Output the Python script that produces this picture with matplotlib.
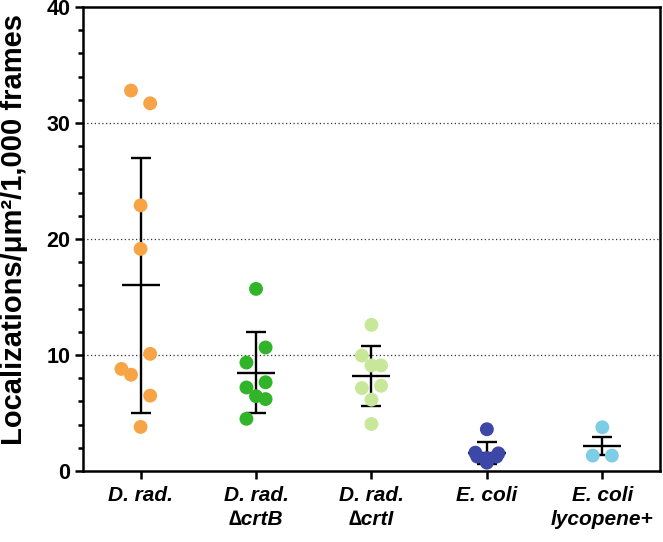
import numpy as np
import matplotlib.pyplot as plt

plt.rcParams['font.family'] = ['Liberation Sans', 'DejaVu Sans']

# groups
labels = ['D. rad.', 'D. rad.\n\u2206crtB', 'D. rad.\n\u2206crtI', 'E. coli', 'E. coli\nlycopene+']
colors = ['#F7A446', '#31B42A', '#C8E899', '#3D47A8', '#7ECDE6']

# values (localizations / um^2 / 1000 frames)
drad = [32.8, 31.7, 22.9, 19.15, 10.1, 8.8, 8.3, 6.5, 3.8]
drad_crtB = [15.7, 10.65, 9.35, 7.65, 7.2, 6.45, 6.2, 4.5]
drad_crtI = [12.6, 9.95, 9.1, 9.1, 7.15, 7.35, 6.15, 4.05]
ecoli = [3.6, 1.58, 1.52, 1.1, 1.24, 1.24, 0.72]
ecoli_lyc = [3.77, 1.33, 1.33]

# horizontal scatter slots of the points
drad_off = [-1, 1, 0, 0, 1, -2, -1, 1, 0]
crtB_off = [0, 1, -1, 1, -1, 0, 1, -1]
crtI_off = [0, -1, 0, 1, -1, 1, 0, 0]
ecoli_off = [0, -1.2, 1.2, 0, -1, 1, 0]
lyc_off = [0, -1, 1]

# error bar half-lengths
err = [11.0, 3.5, 2.6, 0.95, 0.8]

groups = [drad, drad_crtB, drad_crtI, ecoli, ecoli_lyc]
offsets = [drad_off, crtB_off, crtI_off, ecoli_off, lyc_off]

fig = plt.figure(figsize=(6.63, 5.42), dpi=100)
ax = fig.add_axes([0.125, 0.131, 0.8705, 0.856])

step = 0.083
for i, (vals, offs) in enumerate(zip(groups, offsets)):
    x = i + step * np.array(offs)
    ax.scatter(x, vals, s=100, color=colors[i], edgecolors='none', zorder=3)
    m = np.mean(vals)
    ax.errorbar(i, m, yerr=err[i], fmt='none', ecolor='black', elinewidth=1.7,
                capsize=7, capthick=1.7, zorder=2)
    ax.hlines(m, i - 0.165, i + 0.165, color='black', lw=1.7, zorder=2)

ax.set_xlim(-0.5, 4.5)
ax.set_ylim(0, 40)
ax.set_yticks([0, 10, 20, 30, 40])
ax.set_yticks(np.arange(0, 41, 2), minor=True)
ax.set_xticks(range(5))
ax.set_xticklabels(labels, fontsize=15, fontweight='bold', fontstyle='italic',
                   linespacing=1.3)
for t in ax.get_yticklabels():
    t.set_fontsize(15.5)
    t.set_fontweight('bold')

for yv in [10, 20, 30]:
    ax.axhline(yv, color='#333333', lw=0.9, ls=(0, (1, 2)), zorder=1)

for s in ax.spines.values():
    s.set_linewidth(1.8)
ax.tick_params(axis='both', which='major', length=6, width=1.8, pad=3)
ax.tick_params(axis='x', which='major', pad=5)
ax.tick_params(axis='y', which='minor', length=3.5, width=1.8)
ax.tick_params(axis='x', which='minor', bottom=False)

ax.set_ylabel('Localizations/\u03bcm\u00b2/1,000 frames', fontsize=21,
              fontweight='bold')
ax.yaxis.set_label_coords(-0.095, 0.52)

fig.savefig('out.png', dpi=100)
